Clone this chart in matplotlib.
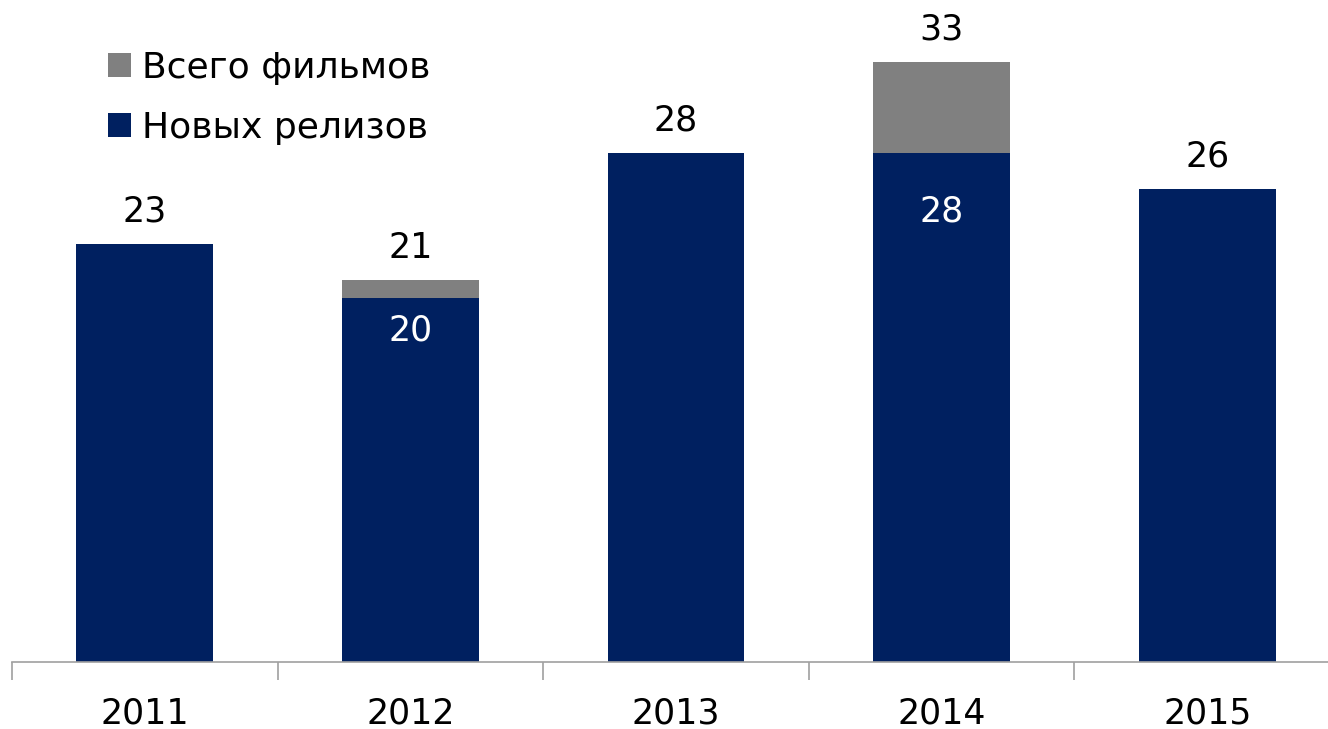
import matplotlib.pyplot as plt
import numpy as np

years = ['2011', '2012', '2013', '2014', '2015']
new_releases = [23, 20, 28, 28, 26]
total_films = [23, 21, 28, 33, 26]

navy = '#002060'
grey = '#808080'

fig = plt.figure(figsize=(13.28, 7.29), dpi=100)
ax = fig.add_axes([12 / 1328, 67 / 729, 1328 / 1328, 662 / 729])

x = np.arange(len(years))
extra = np.array(total_films) - np.array(new_releases)
ax.bar(x, new_releases, width=0.515, color=navy, label='Новых релизов')
ax.bar(x, extra, bottom=new_releases, width=0.515, color=grey, label='Всего фильмов')

# inner label offsets (values below bar top), as placed in the source chart
inner_off = {1: 1.75, 3: 3.25}
for xi, n, t in zip(x, new_releases, total_films):
    ax.text(xi, t + 0.85, str(t), ha='center', va='bottom', fontsize=25)
    if t != n:
        ax.text(xi, n - inner_off.get(xi, 1.75), str(n), ha='center', va='center',
                fontsize=25, color='white')

ax.set_xlim(-0.5, len(years) - 0.5)
ax.set_ylim(0, 36.4)
ax.set_xticks(x)
ax.set_xticklabels(years, fontsize=25)
ax.set_xticks(np.arange(-0.5, len(years), 1), minor=True)
ax.tick_params(axis='x', which='major', length=0, pad=25)
ax.tick_params(axis='x', which='minor', length=13, color='#a0a0a0', width=1.2)
ax.set_yticks([])
for s in ['top', 'right', 'left']:
    ax.spines[s].set_visible(False)
ax.spines['bottom'].set_color('#a0a0a0')
ax.spines['bottom'].set_linewidth(1.2)

h, l = ax.get_legend_handles_labels()
ax.legend(h[::-1], l[::-1], loc='upper left', bbox_to_anchor=(0.053, 0.961), fontsize=26,
          frameon=False, handlelength=0.65, handleheight=0.65, handletextpad=0.3,
          labelspacing=0.72, borderpad=0.2)

fig.savefig('out.png', dpi=100)
